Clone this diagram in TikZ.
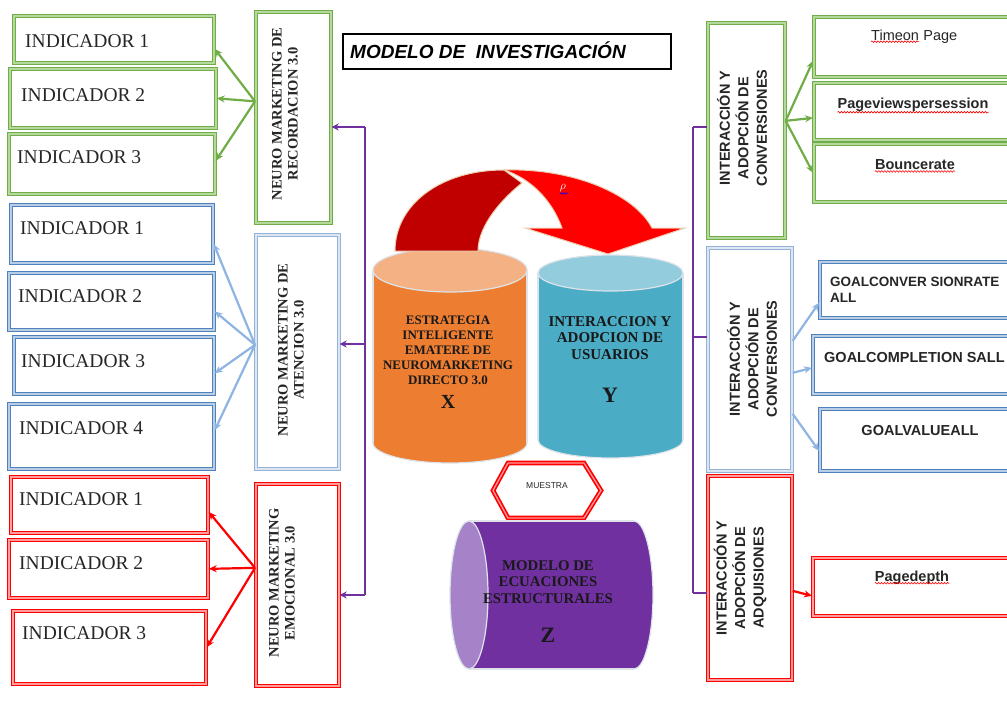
\documentclass[tikz,border=0pt]{standalone}
\usepackage{fontspec}
\setmainfont{Liberation Serif}
\setsansfont{Liberation Sans}
\usetikzlibrary{arrows.meta,decorations.pathmorphing}
\definecolor{gD}{HTML}{70AD47}
\definecolor{gL}{HTML}{B5D99C}
\definecolor{bD}{HTML}{4F81BD}
\definecolor{bL}{HTML}{B9CDE5}
\definecolor{lbD}{HTML}{95B3D7}
\definecolor{lbL}{HTML}{DCE6F2}
\definecolor{bA}{HTML}{8EB4E3}
\definecolor{rD}{HTML}{FF0000}
\definecolor{rL}{HTML}{FF9C9C}
\definecolor{purp}{HTML}{7030A0}
\definecolor{purZ}{HTML}{7030A0}
\definecolor{purZl}{HTML}{A683C9}
\definecolor{orX}{HTML}{ED7D31}
\definecolor{orXt}{HTML}{F4B183}
\definecolor{blY}{HTML}{4BACC6}
\definecolor{blYt}{HTML}{93CDDD}
\definecolor{cylEdge}{HTML}{DDE3E8}
\definecolor{arD}{HTML}{C00000}
\definecolor{arB}{HTML}{FF0000}
\definecolor{arE}{HTML}{EBCDB0}
\newcommand\bxn[6]{\node[#2,anchor=north west,minimum width=#5,minimum height=#6,inner sep=0pt] (#1) at (#3,#4) {};}
\begin{document}
\begin{tikzpicture}[x=1pt,y=-1pt,
  dbl/.style={line width=1.7pt,double distance=1.3pt,fill=white},
  gbox/.style={dbl,draw=gD,double=gL},
  bbox/.style={dbl,draw=bD,double=bL},
  lbbox/.style={dbl,draw=lbD,double=lbL},
  rbox/.style={dbl,draw=rD,double=rL},
  ind/.style={anchor=west,inner sep=0pt,font=\fontsize{19.5}{22}\selectfont,text=black!85},
  vtxt/.style={rotate=90,align=center,inner sep=0pt,font=\bfseries\fontsize{14.5}{16}\selectfont,text=black!85},
  rvtxt/.style={rotate=90,align=center,inner sep=0pt,font=\sffamily\bfseries\fontsize{14.5}{18.5}\selectfont,text=black!85},
  rtxt/.style={inner sep=0pt,font=\sffamily\bfseries\fontsize{14.5}{16}\selectfont,text=black!85},
  ctxt/.style={align=center,inner sep=0pt,text=black!90},
  tip/.style={-{Stealth[length=8pt,width=7pt]}},
  garr/.style={draw=gD,line width=2.2pt,tip},
  barr/.style={draw=bA,line width=2.2pt,tip},
  rarr/.style={draw=rD,line width=2.2pt,tip},
  pline/.style={draw=purp,line width=2.7pt},
  parr/.style={pline,-{Stealth[length=7pt,width=7pt]}},
  squig/.style={draw=red,line width=0.6pt,decorate,decoration={snake,segment length=3pt,amplitude=0.8pt}},
  cyl/.style={draw=cylEdge,line width=1.2pt}]
\useasboundingbox (0,0) rectangle (1007,704);
\clip (0,0) rectangle (1007,704);
\fill[white] (0,0) rectangle (1007,704);

% ---------- left boxes ----------
\bxn{g1}{gbox}{13}{15}{200}{47}
\bxn{g2}{gbox}{9}{68}{206}{59}
\bxn{g3}{gbox}{8}{133}{206}{60}
\bxn{gv}{gbox}{255}{11}{75}{211}
\bxn{b1}{bbox}{10}{204}{202}{58}
\bxn{b2}{bbox}{8}{272}{205}{57}
\bxn{b3}{bbox}{13}{336}{200}{57}
\bxn{b4}{bbox}{8}{403}{205}{65}
\bxn{bv}{lbbox}{255}{234}{83}{234}
\bxn{r1}{rbox}{10}{476}{197}{56}
\bxn{r2}{rbox}{8}{539}{199}{58}
\bxn{r3}{rbox}{12}{610}{193}{73}
\bxn{rv}{rbox}{255}{483}{83}{202}

\node[ind] (g1t) at (25,41) {INDICADOR 1};
\node[ind] (g2t) at (21,95) {INDICADOR 2};
\node[ind] (g3t) at (17,157) {INDICADOR 3};
\node[ind] (b1t) at (20,228) {INDICADOR 1};
\node[ind] (b2t) at (18,296) {INDICADOR 2};
\node[ind] (b3t) at (21,361) {INDICADOR 3};
\node[ind] (b4t) at (19,428) {INDICADOR 4};
\node[ind] (r1t) at (19,499) {INDICADOR 1};
\node[ind] (r2t) at (19,563) {INDICADOR 2};
\node[ind] (r3t) at (22,633) {INDICADOR 3};

\node[vtxt] (gvt) at (285,114) {NEURO MARKETING DE\\RECORDACION 3.0};
\node[vtxt] (bvt) at (291,350) {NEURO MARKETING DE\\ATENCION 3.0};
\node[vtxt] (rvt) at (282,583) {NEURO MARKETING\\EMOCIONAL 3.0};

\draw[garr] ([yshift=16pt]gv.west) -- ([yshift=-9.5pt]g1.east);
\draw[garr] ([yshift=16pt]gv.west) -- (g2.east);
\draw[garr] ([yshift=16pt]gv.west) -- ([yshift=3pt]g3.east);
\draw[barr] ([yshift=7pt]bv.west) -- ([yshift=-10pt]b1.east);
\draw[barr] ([yshift=7pt]bv.west) -- ([yshift=-10pt]b2.east);
\draw[barr] ([yshift=7pt]bv.west) -- ([yshift=-8pt]b3.east);
\draw[barr] ([yshift=7pt]bv.west) -- ([yshift=6pt]b4.east);
\draw[rarr] ([yshift=17pt]rv.west) -- ([yshift=-7pt]r1.east);
\draw[rarr] ([yshift=17pt]rv.west) -- (r2.east);
\draw[rarr] ([yshift=17pt]rv.west) -- (r3.east);

% ---------- purple brackets ----------
\coordinate (pl1) at (365,127);
\coordinate (pl2) at (365,344);
\coordinate (pl3) at (365,595);
\draw[pline] (pl1) -- (pl3);
\draw[parr] (pl1) -- (gv.east |- pl1);
\draw[parr] (pl2) -- (bv.east |- pl2);
\draw[parr] (pl3) -- (rv.east |- pl3);

\coordinate (pr1) at (693,127);
\coordinate (pr2) at (693,337);
\coordinate (pr3) at (693,593);

% ---------- title ----------
\node[draw=black,line width=1.6pt,anchor=north west,minimum width=328,minimum height=35,inner sep=0pt] (title) at (342,33) {};
\node[anchor=west,inner sep=0pt,font=\sffamily\bfseries\itshape\fontsize{19}{22}\selectfont] (titlet) at (350,50) {MODELO DE\ \ INVESTIGACIÓN};

% ---------- cylinders X and Y ----------
\fill[orX,cyl] (450,443) ellipse [x radius=77pt,y radius=20pt];
\fill[orX] (373,270) rectangle (527,443);
\draw[cyl] (373,270) -- (373,443) (527,270) -- (527,443);
\filldraw[fill=orXt,cyl] (450,270) ellipse [x radius=77pt,y radius=22pt];

\fill[blY,cyl] (610.5,440) ellipse [x radius=72.5pt,y radius=18pt];
\fill[blY] (538,273) rectangle (683,440);
\draw[cyl] (538,273) -- (538,440) (683,273) -- (683,440);
\filldraw[fill=blYt,cyl] (610.5,273) ellipse [x radius=72.5pt,y radius=18pt];

\node[ctxt,font=\bfseries\fontsize{13}{15}\selectfont] (xt) at (448,350) {ESTRATEGIA\\INTELIGENTE\\EMATERE DE\\NEUROMARKETING\\DIRECTO 3.0};
\node[ctxt,font=\bfseries\fontsize{20}{22}\selectfont] (xl) at (448,402) {X};
\node[ctxt,font=\bfseries\fontsize{15}{16.5}\selectfont] (yt) at (610,338) {INTERACCION Y\\ADOPCION DE\\USUARIOS};
\node[ctxt,font=\bfseries\fontsize{22}{24}\selectfont] (yl) at (610,395) {Y};

% ---------- curved arrow ----------
\filldraw[fill=arD,draw=arE,line width=1pt] (395,251) .. controls (395,205) and (440,170) .. (504,170) -- (522,183) .. controls (503,198) and (478,225) .. (478,251) -- cycle;
\filldraw[fill=arB,draw=arE,line width=1pt] (504,170) .. controls (575,168) and (635,195) .. (652,228) -- (685,228) -- (608,254) -- (525,228) -- (562,228) .. controls (552,200) and (530,178) .. (504,170) -- cycle;
\node[inner sep=0pt,text=white,font=\fontsize{12}{12}\selectfont] (rho) at (563,188) {$\rho$};
\draw[squig,draw=blue] ([yshift=-1.5pt]rho.south west) -- ([yshift=-1.5pt,xshift=2pt]rho.south east);

% ---------- muestra ----------
\draw[rbox] (493,490.5) -- (508,463) -- (584,463) -- (601,490.5) -- (584,518) -- (508,518) -- cycle;
\node[inner sep=0pt,font=\sffamily\fontsize{8.5}{9}\selectfont,text=black!85] (mu) at (547,486) {MUESTRA};

% ---------- cylinder Z ----------
\filldraw[fill=purZ,cyl] (634,595) ellipse [x radius=19pt,y radius=74pt];
\fill[purZ] (469,521) rectangle (634,669);
\draw[cyl] (469,521) -- (634,521) (469,669) -- (634,669);
\filldraw[fill=purZl,cyl] (469,595) ellipse [x radius=19pt,y radius=74pt];
\node[ctxt,font=\bfseries\fontsize{14.8}{16.5}\selectfont,text=black!90] (zt) at (548,582) {MODELO DE\\ECUACIONES\\ESTRUCTURALES};
\node[ctxt,font=\bfseries\fontsize{22}{24}\selectfont] (zl) at (548,635) {Z};

% ---------- right boxes ----------
\bxn{rgv}{gbox}{707}{22}{77}{215}
\bxn{tp}{gbox}{813}{16}{210}{60}
\bxn{pv}{gbox}{813}{82}{210}{57}
\bxn{bo}{gbox}{813}{143}{210}{58}
\bxn{rbv}{lbbox}{707}{247}{84}{223}
\bxn{gcr}{bbox}{819}{261}{200}{56}
\bxn{gcs}{bbox}{812}{335}{210}{58}
\bxn{gva}{bbox}{819}{408}{200}{62}
\bxn{rrv}{rbox}{707}{475}{84}{204}
\bxn{pd}{rbox}{812}{557}{210}{58}

\draw[pline] (pr1) -- (pr3);
\draw[pline] (pr1) -- (rgv.west |- pr1);
\draw[pline] (pr2) -- (rbv.west |- pr2);
\draw[pline] (pr3) -- (rrv.west |- pr3);

\node[rvtxt] (rgvt) at (742,128) {INTERACCIÓN Y\\ADOPCIÓN DE\\CONVERSIONES};
\node[rvtxt] (rbvt) at (752,359) {INTERACCIÓN Y\\ADOPCIÓN DE\\CONVERSIONES};
\node[rvtxt] (rrvt) at (740,578) {INTERACCIÓN Y\\ADOPCIÓN DE\\ADQUISIONES};

\draw[garr] ([yshift=9.5pt]rgv.east) -- ([yshift=-14pt]tp.west);
\draw[garr] ([yshift=9.5pt]rgv.east) -- ([yshift=-6.5pt]pv.west);
\draw[garr] ([yshift=9.5pt]rgv.east) -- (bo.west);
\draw[barr] ([yshift=18.5pt]rbv.east) -- ([yshift=-13pt]gcr.west);
\draw[barr] ([yshift=-13.5pt]rbv.east) -- ([yshift=-3pt]gcs.west);
\draw[barr] ([yshift=-54.5pt]rbv.east) -- ([yshift=-11pt]gva.west);
\draw[rarr] ([yshift=-13pt]rrv.east) -- ([yshift=-9pt]pd.west);

\node[inner sep=0pt,anchor=west,font=\sffamily\fontsize{14.5}{16}\selectfont,text=black!85] (tmw) at (871,35) {Timeon};
\node[inner sep=0pt,anchor=base west,font=\sffamily\fontsize{14.5}{16}\selectfont,text=black!85] (tpg) at ([xshift=4pt]tmw.base east) {Page};
\node[rtxt] (pvt) at (913,105) {Pageviewspersession};
\node[rtxt] (bot) at (915,165) {Bouncerate};
\node[rtxt,anchor=west,align=left,font=\sffamily\bfseries\fontsize{13.5}{16}\selectfont] (gcrt) at (830,290) {GOALCONVER SIONRATE\\ALL};
\node[rtxt,anchor=west] (gcst) at (824,358) {GOALCOMPLETION SALL};
\node[rtxt] (gvat) at (920,431) {GOALVALUEALL};
\node[rtxt] (pdt) at (912,578) {Pagedepth};

\draw[squig] ([yshift=-1.5pt]tmw.base west) -- ([yshift=-1.5pt]tmw.base east);
\draw[squig] ([yshift=-3.5pt]pvt.base west) -- ([yshift=-3.5pt]pvt.base east);
\draw[squig] ([yshift=-1.5pt]bot.base west) -- ([yshift=-1.5pt]bot.base east);
\draw[squig] ([yshift=-1.5pt]pdt.base west) -- ([yshift=-1.5pt]pdt.base east);
\end{tikzpicture}
\end{document}
